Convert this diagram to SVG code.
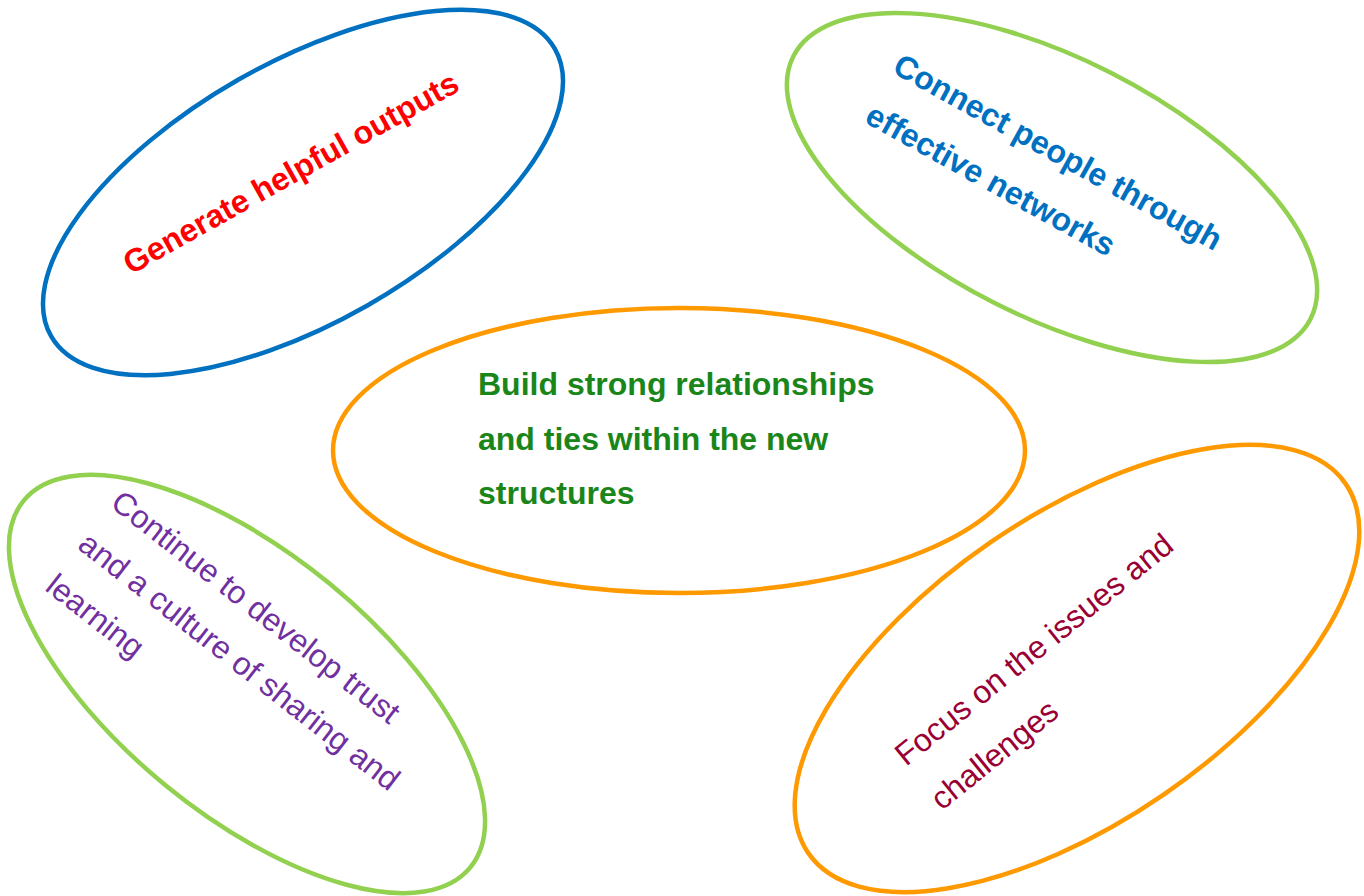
<svg xmlns="http://www.w3.org/2000/svg" width="1364" height="896" viewBox="0 0 1364 896">
  <style>
    .oval { fill: none; stroke-width: 4.5; }
    .blue { stroke: #0070C0; }
    .green { stroke: #92D050; }
    .orange { stroke: #FF9900; }
    text { font-family: "Liberation Sans", Arial, sans-serif; font-size: 32px; }
    .b { font-weight: bold; }
  </style>
  <rect width="1364" height="896" fill="#ffffff"/>
  <g id="node-outputs">
    <ellipse class="oval blue" cx="0" cy="0" rx="290" ry="130" transform="translate(303,192.5) rotate(-29.7)"/>
    <text class="b" fill="#FF0000" transform="translate(131,275) rotate(-29.3)" font-size="30">Generate helpful outputs</text>
  </g>
  <g id="node-connect">
    <ellipse class="oval green" cx="0" cy="0" rx="290" ry="129" transform="translate(1052,187.5) rotate(26.9)"/>
    <text class="b" fill="#0070C0" transform="translate(891,72) rotate(29)" font-size="31"><tspan x="0" y="0">Connect people through</tspan><tspan x="0" y="57">effective networks</tspan></text>
  </g>
  <g id="node-build">
    <ellipse class="oval orange" cx="679" cy="450.5" rx="346" ry="142.5"/>
    <text class="b" fill="#1A861A"><tspan x="478" y="395">Build strong relationships</tspan><tspan x="478" y="450">and ties within the new</tspan><tspan x="478" y="504">structures</tspan></text>
  </g>
  <g id="node-trust">
    <ellipse class="oval green" cx="0" cy="0" rx="289" ry="130" transform="translate(247,684) rotate(39.4)"/>
    <text fill="#7030A0" transform="translate(109,506) rotate(38)"><tspan x="0" y="0">Continue to develop trust</tspan><tspan x="0" y="53">and a culture of sharing and</tspan><tspan x="0" y="106">learning</tspan></text>
  </g>
  <g id="node-focus">
    <ellipse class="oval orange" cx="0" cy="0" rx="326" ry="153" transform="translate(1077,668.5) rotate(-34.5)"/>
    <text fill="#990033" transform="translate(906,767) rotate(-39)"><tspan x="0" y="0">Focus on the issues and</tspan><tspan x="0" y="57">challenges</tspan></text>
  </g>
  <g id="connectors"/>
</svg>
